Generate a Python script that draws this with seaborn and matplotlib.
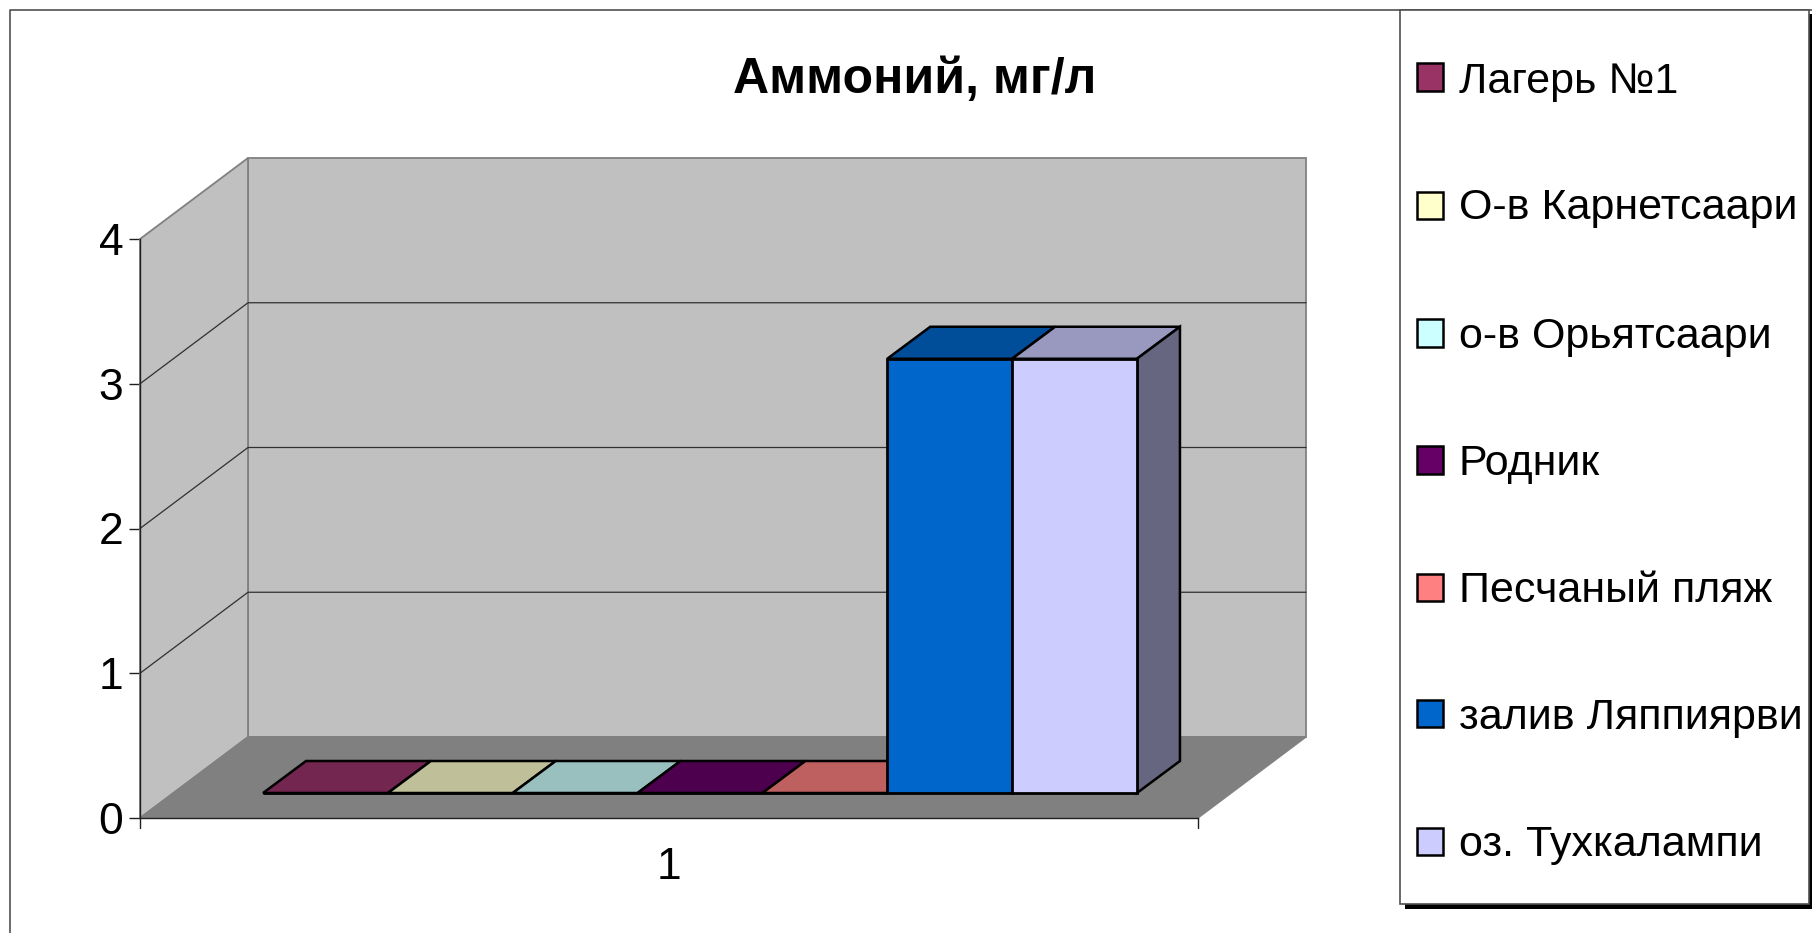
import matplotlib
matplotlib.use("Agg")
import matplotlib.pyplot as plt
import matplotlib.patches as mpatches
from matplotlib.transforms import Affine2D, IdentityTransform
import numpy as np
import pandas as pd
import seaborn as sns

# Data
title = 'Аммоний, мг/л'
sites = ['Лагерь №1', 'О-в Карнетсаари', 'о-в Орьятсаари', 'Родник',
         'Песчаный пляж', 'залив Ляппиярви', 'оз. Тухкалампи']
values = [0, 0, 0, 0, 0, 3, 3]
legend_colors = ['#993366', '#FFFFCC', '#CCFFFF', '#660066', '#FF8080', '#0066CC', '#CCCCFF']
top_colors = ['#732650', '#BFBF99', '#99BFBF', '#4D004D', '#BF6060', '#004D99', '#9999BF']
side_color = '#666680'
y_ticks = [0, 1, 2, 3, 4]
category = '1'

sns.set_theme(style='white')
plt.rcParams['font.family'] = ['Liberation Sans', 'DejaVu Sans']

W, H = 1812, 933
fig = plt.figure(figsize=(W / 100, H / 100), dpi=100, facecolor='white')


def fig_rect(x0, y0, x1, y1, **kw):
    # rectangle in picture pixels, y counted from the top
    r = mpatches.Rectangle((x0 / W, 1 - y1 / H), (x1 - x0) / W, (y1 - y0) / H, transform=fig.transFigure, **kw)
    fig.add_artist(r)


# page border, only the top and left edges show
fig.add_artist(plt.Line2D([10 / W, 10 / W, 1], [0, 1 - 10 / H, 1 - 10 / H], transform=fig.transFigure,
                          color='#505050', lw=1.2, zorder=0))

# front plane of the plot, depth goes up and right from there
left, right, top, bottom = 140, 1198, 239, 818
ax = fig.add_axes([left / W, 1 - bottom / H, (right - left) / W, (bottom - top) / H])
ax.patch.set_visible(False)

df = pd.DataFrame({'site': sites, 'value': values, 'cat': [category] * len(sites)})
sns.barplot(data=df, x='cat', y='value', hue='site', palette=legend_colors, hue_order=sites,
            order=[category], width=0.826, gap=0, dodge=True, legend=False, ax=ax,
            edgecolor='black', linewidth=2, saturation=1, zorder=5)
bars = sorted(ax.patches, key=lambda p: p.get_x())
ax.set_ylim(0, 4)
ax.set_xlim(-0.5, 0.5)

depth = np.array([108, 81])
bar_shift = np.array([31, 25])
bar_depth = np.array([43, 32])


def px_poly(pts, fc, ec, lw=1.0, zorder=1):
    ax.add_artist(mpatches.Polygon(pts, closed=True, transform=IdentityTransform(), fc=fc, ec=ec, lw=lw,
                                   zorder=zorder, clip_on=False, joinstyle='miter'))


bl, br, tr, tl = ax.transAxes.transform([(0, 0), (1, 0), (1, 1), (0, 1)])
# back wall, side wall and floor
px_poly([bl + depth, br + depth, tr + depth, tl + depth], '#C0C0C0', '#808080', lw=1.3, zorder=0.5)
px_poly([bl, tl, tl + depth, bl + depth], '#C0C0C0', '#808080', lw=1.3, zorder=0.6)
px_poly([bl, br, br + depth, bl + depth], '#808080', '#808080', zorder=0.7)

# gridlines on both walls
for v in y_ticks[1:-1]:
    a = ax.transData.transform((-0.5, v))
    b = ax.transData.transform((0.5, v))
    ax.add_artist(plt.Line2D([a[0], a[0] + depth[0], b[0] + depth[0]],
                             [a[1], a[1] + depth[1], b[1] + depth[1]], transform=IdentityTransform(),
                             color='#303030', lw=0.9, zorder=1, clip_on=False))

# move the barplot faces onto the floor and add their tops and sides
for i, b in enumerate(bars):
    b.set_transform(ax.transData + Affine2D().translate(*bar_shift))
    b.set_clip_on(False)
    x0, x1 = b.get_x(), b.get_x() + b.get_width()
    h = b.get_height()
    p0 = ax.transData.transform((x0, h)) + bar_shift
    p1 = ax.transData.transform((x1, h)) + bar_shift
    px_poly([p0, p1, p1 + bar_depth, p0 + bar_depth], top_colors[i], 'black', lw=1.8, zorder=3)
    if i == len(bars) - 1:
        low = ax.transData.transform((x1, 0)) + bar_shift
        px_poly([p1, p1 + bar_depth, low + bar_depth, low], side_color, 'black', lw=1.8, zorder=3)

sns.despine(ax=ax, top=True, right=True)
for s in ['left', 'bottom']:
    ax.spines[s].set_color('#202020')
    ax.spines[s].set_linewidth(1)
ax.set_yticks(y_ticks)
ax.set_xticks([0])
ax.set_xticklabels([category])
ax.tick_params(axis='y', length=8, width=1, color='#202020', labelsize=32, labelcolor='black', pad=4, left=True)
ax.tick_params(axis='x', length=0, labelsize=32, labelcolor='black', pad=21)
ax.set_xlabel('')
ax.set_ylabel('')
for xa in [0, 1]:
    ax.plot([xa, xa], [0, -0.017], transform=ax.transAxes, color='#202020', lw=1, clip_on=False)

fig.text(915 / W, 1 - 80 / H, title, ha='center', va='center', fontsize=36, fontweight='bold', color='black')

# legend box with its heavy shadow
fig_rect(1405, 14, 1812, 909, fc='black', ec='none', zorder=6)
fig_rect(1400, 10, 1809, 904, fc='white', ec='#505050', lw=1.2, zorder=7)
legend_y = [77, 205, 333, 460, 587, 713, 841]
text_y = [82, 208, 337, 464, 591, 718, 845]
for name, c, ly, ty in zip(sites, legend_colors, legend_y, text_y):
    fig_rect(1417, ly - 13.5, 1443, ly + 13.5, fc=c, ec='black', lw=1.8, zorder=8)
    fig.text(1459 / W, 1 - ty / H, name, ha='left', va='center', fontsize=31, color='black', zorder=8)

fig.savefig('out.png', dpi=100)
